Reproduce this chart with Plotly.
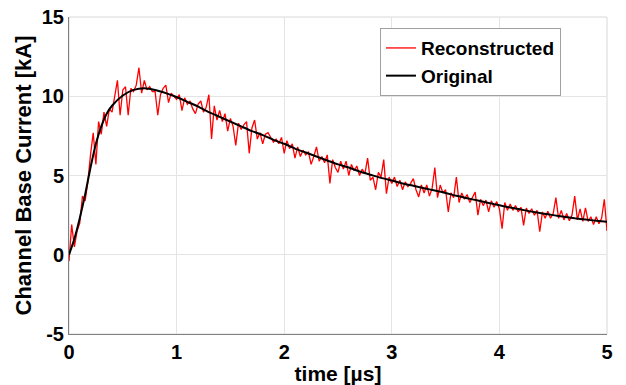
import plotly.graph_objects as go

# ---- data ----
t_orig = [0.0, 0.05, 0.1, 0.15, 0.2, 0.25, 0.3, 0.35, 0.4, 0.5, 0.6, 0.7, 0.8, 0.9,
          1.0, 1.1, 1.2, 1.3, 1.4, 1.5, 1.6, 1.7, 1.8, 1.9,
          2.0, 2.1, 2.2, 2.3, 2.4, 2.5, 2.6, 2.7, 2.8, 2.9,
          3.0, 3.1, 3.2, 3.3, 3.4, 3.5, 3.6, 3.7, 3.8, 3.9,
          4.0, 4.1, 4.2, 4.3, 4.4, 4.5, 4.6, 4.7, 4.8, 4.9, 5.0]
i_orig = [0.0, 1.0, 2.3, 3.8, 5.5, 7.0, 8.1, 8.9, 9.4, 10.05, 10.4, 10.5, 10.4, 10.2,
          9.95, 9.65, 9.35, 9.0, 8.7, 8.4, 8.1, 7.8, 7.55, 7.25,
          7.0, 6.7, 6.45, 6.2, 5.95, 5.7, 5.5, 5.25, 5.05, 4.85,
          4.68, 4.5, 4.35, 4.2, 4.05, 3.9, 3.72, 3.57, 3.42, 3.27,
          3.12, 2.98, 2.85, 2.72, 2.6, 2.5, 2.4, 2.3, 2.22, 2.15, 2.08]

# reconstructed samples, every 0.025 us from 0 to 5
t_rec = [round(0.025 * k, 3) for k in range(201)]
i_rec = [
    -0.4, 1.9, 0.5, 1.5,      2.0, 3.7, 3.4, 4.6,
    6.3, 7.7, 5.7, 8.4,       7.6, 9.0, 8.1, 9.2,
    9.0, 10.0, 11.0, 8.8,     10.4, 10.6, 8.8, 10.5,
    10.3, 10.7, 11.8, 10.2,   11.0, 10.4, 10.6, 10.3,
    10.3, 8.8, 10.1, 10.5,    10.7, 9.6, 10.2, 10.0,
    9.8, 10.1, 9.1, 9.9,      9.5, 9.7, 9.2, 8.9,
    9.5, 9.7, 9.0, 9.3,       10.1, 7.3, 9.4, 8.5,
    9.1, 8.4, 8.9, 7.8,       8.6, 8.1, 6.9, 8.3,
    7.9, 8.2, 8.4, 6.4,       8.0, 8.5, 7.3, 7.7,
    7.0, 7.6, 7.7, 7.4,       7.1, 7.3, 7.0, 7.4,
    6.4, 7.2, 6.7, 7.0,       6.1, 6.8, 6.2, 6.6,
    6.3, 6.5, 5.7, 6.2,       6.8, 5.9, 6.2, 5.8,
    6.3, 4.5, 6.0, 5.5,       5.2, 5.9, 5.4, 5.9,
    5.0, 5.7, 5.3, 5.6,       5.0, 5.4, 5.1, 6.1,
    4.7, 4.9, 4.1, 5.2,       4.9, 6.0, 3.85, 4.9,
    4.5, 4.9, 4.3, 4.7,       4.1, 4.6, 4.3, 4.5,
    4.8, 4.1, 3.65, 4.4,      3.9, 4.4, 3.7, 4.2,
    5.5, 3.6, 4.4, 3.9,       4.1, 2.7, 3.9, 3.6,
    4.9, 3.3, 3.9, 3.5,       3.8, 3.3, 3.6, 3.95,
    2.5, 3.5, 3.1, 3.45,      2.7, 3.4, 3.0, 3.35,
    2.9, 1.65, 3.3, 2.8,      3.2, 2.8, 3.1, 2.7,
    3.0, 1.85, 2.95, 2.6,     2.9, 2.5, 2.8, 1.45,
    2.7, 2.3, 2.75, 2.3,      2.6, 3.6, 2.3, 2.8,
    2.2, 2.6, 2.15, 2.5,      3.7, 2.2, 2.9, 2.1,
    2.95, 2.1, 2.4, 1.9,      2.4, 1.95, 2.3, 3.5,
    1.5,
]

x_ticks = [0, 1, 2, 3, 4, 5]
y_ticks = [-5, 0, 5, 10, 15]

FONT = "Liberation Sans, Arial, Helvetica, sans-serif"

fig = go.Figure()
fig.add_trace(go.Scatter(x=t_rec, y=i_rec, mode="lines", name="Reconstructed",
                         line=dict(color="#ff0000", width=1.3)))
fig.add_trace(go.Scatter(x=t_orig, y=i_orig, mode="lines", name="Original",
                         line=dict(color="#000000", width=2, shape="spline", smoothing=0.6)))

fig.update_layout(
    width=626, height=385,
    margin=dict(l=69, r=19, t=17, b=51),
    paper_bgcolor="white", plot_bgcolor="white",
    font=dict(family=FONT, size=20, color="black", weight="bold"),
    showlegend=True,
    legend=dict(x=0.578, y=0.965, xanchor="left", yanchor="top",
                bgcolor="white", bordercolor="#a0a0a0", borderwidth=1,
                font=dict(family=FONT, size=19, weight="bold"),
                tracegroupgap=0, itemwidth=30),
    xaxis=dict(range=[0, 5], tickvals=x_ticks, ticktext=[str(v) for v in x_ticks],
               showgrid=True, gridcolor="#e4e4e4", gridwidth=1,
               showline=True, linecolor="#808080", linewidth=1,
               zeroline=False, ticks="", ticklen=0, automargin=False,
               title=dict(text="time [µs]", standoff=6,
                          font=dict(family=FONT, size=21, weight="bold"))),
    yaxis=dict(range=[-5, 15], tickvals=y_ticks, ticktext=[str(v) for v in y_ticks],
               showgrid=True, gridcolor="#e4e4e4", gridwidth=1,
               showline=True, linecolor="#808080", linewidth=1,
               zeroline=False, ticks="", ticklen=0, automargin=False,
               title=dict(text="Channel Base Current [kA]", standoff=4,
                          font=dict(family=FONT, size=22, weight="bold"))),
    shapes=[dict(type="rect", xref="paper", yref="paper", x0=0, y0=0, x1=1, y1=1,
                 line=dict(color="#d8d8d8", width=1), layer="below")],
)

fig.write_html("out.html")
